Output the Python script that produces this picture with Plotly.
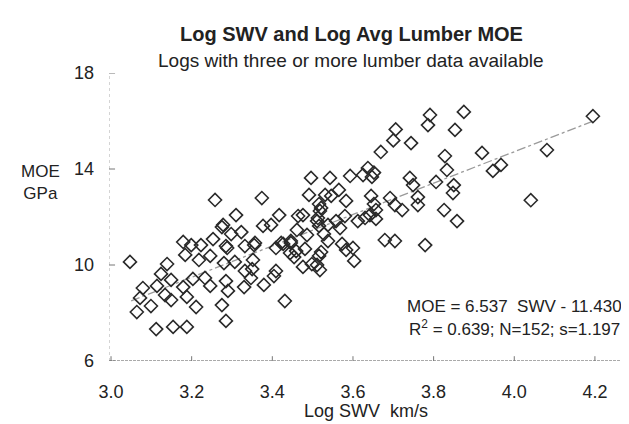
import plotly.graph_objects as go

# ---- data ----
swv = [3.258, 3.310, 3.278, 3.275, 3.323, 3.298, 3.253, 3.179, 3.199, 3.223,
       3.285, 3.332, 3.355, 3.184, 3.218, 3.246, 3.288, 3.352, 3.047, 3.139,
       3.280, 3.307, 3.332, 3.350, 3.347, 3.124, 3.149, 3.179, 3.203, 3.233,
       3.246, 3.285, 3.290, 3.330, 3.079, 3.114, 3.134, 3.149, 3.188, 3.072,
       3.099, 3.064, 3.211, 3.275, 3.112, 3.154, 3.188, 3.285, 3.409, 3.427,
       3.446, 3.444, 3.459, 3.481, 3.454, 3.521, 3.516, 3.476, 3.498, 3.511,
       3.518, 3.409, 3.404, 3.379, 3.431, 3.573, 3.583, 3.600, 3.603, 3.679,
       3.704, 3.706, 3.700, 3.669, 3.496, 3.543, 3.593, 3.625, 3.637, 3.647,
       3.652, 3.374, 3.491, 3.531, 3.546, 3.565, 3.583, 3.516, 3.521, 3.645,
       3.652, 3.692, 3.704, 3.417, 3.464, 3.476, 3.518, 3.513, 3.657, 3.642,
       3.657, 3.377, 3.397, 3.461, 3.511, 3.516, 3.538, 3.558, 3.580, 3.568,
       3.612, 3.630, 3.357, 3.422, 3.446, 3.486, 3.528, 3.538, 3.791, 3.875,
       3.786, 3.744, 3.853, 3.828, 3.920, 3.833, 3.947, 3.967, 4.081, 3.741,
       3.749, 3.806, 3.850, 3.848, 3.761, 3.761, 3.722, 3.826, 3.858, 4.041,
       3.779, 4.195]
moe = [12.71, 12.08, 11.67, 11.58, 11.37, 11.29, 11.08, 10.96, 10.83, 10.83,
       10.79, 10.79, 10.83, 10.42, 10.21, 10.38, 10.71, 10.21, 10.13, 10.04,
       10.08, 10.13, 9.75, 9.83, 9.46, 9.63, 9.38, 9.08, 9.42, 9.46,
       9.13, 9.33, 8.92, 9.08, 9.04, 9.13, 8.75, 8.54, 8.67, 8.63,
       8.29, 8.04, 8.25, 8.33, 7.33, 7.42, 7.42, 7.67, 10.71, 10.88,
       10.92, 10.50, 10.58, 10.67, 10.33, 10.54, 10.38, 9.92, 10.04, 10.00,
       9.79, 9.75, 9.54, 9.17, 8.50, 10.88, 10.63, 10.71, 10.17, 11.04,
       11.00, 15.65, 15.19, 14.71, 13.63, 13.63, 13.71, 13.75, 14.04, 13.67,
       13.85, 12.79, 12.92, 12.92, 12.88, 13.13, 12.67, 12.54, 12.38, 12.88,
       12.54, 12.79, 12.50, 12.08, 12.04, 12.08, 12.25, 11.96, 12.29, 12.08,
       11.92, 11.63, 11.67, 11.46, 11.83, 11.63, 11.67, 11.83, 12.04, 11.54,
       11.83, 11.96, 10.92, 10.92, 11.00, 11.25, 11.29, 11.00, 16.25, 16.38,
       15.83, 15.08, 15.63, 14.54, 14.67, 13.96, 13.92, 14.17, 14.79, 13.63,
       13.33, 13.46, 13.33, 13.00, 12.83, 12.50, 12.29, 12.29, 11.83, 12.70,
       10.83, 16.20]

slope = 6.537
intercept = -11.430
fit_swv = [3.05, 4.20]

x_ticks = [3.0, 3.2, 3.4, 3.6, 3.8, 4.0, 4.2]
x_tick_text = ["3.0", "3.2", "3.4", "3.6", "3.8", "4.0", "4.2"]
y_ticks = [6, 10, 14, 18]
y_tick_text = ["6", "10", "14", "18"]

title = "Log SWV and Log Avg Lumber MOE"
subtitle = "Logs with three or more lumber data available"
x_title = "Log SWV  km/s"
y_title = "MOE<br>GPa"
eq_line1 = "MOE = 6.537  SWV - 11.430"
eq_line2 = "R<sup>2</sup> = 0.639; N=152; s=1.197"

# ---- layout geometry ----
W, H = 629, 424
ml, mr, mt, mb = 101, 7, 65, 71
x_range = [2.995, 4.287]
y_range = [6, 18]

FONT = "Liberation Sans, Arial, sans-serif"
INK = "#222222"

fig = go.Figure()

fit_moe = [slope * v + intercept for v in fit_swv]
fig.add_trace(go.Scatter(
    x=fit_swv, y=fit_moe, mode="lines",
    line=dict(color="#9a9a9a", width=1.3, dash="dashdot"),
    hoverinfo="skip", showlegend=False))

fig.add_trace(go.Scatter(
    x=swv, y=moe, mode="markers",
    marker=dict(symbol="diamond-open", size=10, color="#2a2a2a",
                line=dict(width=1.6, color="#2a2a2a")),
    cliponaxis=False, showlegend=False))

shapes = []
# axis lines
shapes.append(dict(type="line", xref="x", yref="y", x0=x_range[0], x1=x_range[1],
                   y0=y_range[0], y1=y_range[0],
                   line=dict(color="#555555", width=1, dash="3px,1px")))
shapes.append(dict(type="line", xref="x", yref="y", x0=x_range[0], x1=x_range[0],
                   y0=y_range[0], y1=y_range[1],
                   line=dict(color="#aaaaaa", width=1, dash="dot")))
# crossing tick marks
for t in x_ticks:
    shapes.append(dict(type="line", xref="x", yref="y", x0=t, x1=t,
                       y0=y_range[0] - 0.2, y1=y_range[0] + 0.2,
                       line=dict(color="#777777", width=1)))
for t in y_ticks:
    shapes.append(dict(type="line", xref="x", yref="y",
                       x0=x_range[0] - 0.015, x1=x_range[0] + 0.015,
                       y0=t, y1=t, line=dict(color="#777777", width=1)))

pw = W - ml - mr
ph = H - mt - mb

def px_to_paper_x(px):
    return (px - ml) / pw

def px_to_paper_y(py):
    return (H - mb - py) / ph

annotations = [
    dict(text=f"<b>{title}</b>", x=px_to_paper_x(343), y=px_to_paper_y(26),
         xref="paper", yref="paper", showarrow=False, xanchor="center", yanchor="middle",
         font=dict(size=20, color=INK, family=FONT)),
    dict(text=subtitle, x=px_to_paper_x(342), y=px_to_paper_y(52),
         xref="paper", yref="paper", showarrow=False, xanchor="center", yanchor="middle",
         font=dict(size=19, color=INK, family=FONT)),
    dict(text=x_title, x=px_to_paper_x(358), y=px_to_paper_y(403),
         xref="paper", yref="paper", showarrow=False, xanchor="center", yanchor="middle",
         font=dict(size=18, color=INK, family=FONT)),
    dict(text=y_title, x=px_to_paper_x(32), y=px_to_paper_y(174),
         xref="paper", yref="paper", showarrow=False, xanchor="center", yanchor="middle",
         align="center", font=dict(size=17, color=INK, family=FONT)),
    dict(text=eq_line1, x=px_to_paper_x(616), y=px_to_paper_y(298),
         xref="paper", yref="paper", showarrow=False, xanchor="right", yanchor="middle",
         font=dict(size=17, color=INK, family=FONT)),
    dict(text=eq_line2, x=px_to_paper_x(614), y=px_to_paper_y(320),
         xref="paper", yref="paper", showarrow=False, xanchor="right", yanchor="middle",
         font=dict(size=17, color=INK, family=FONT)),
]

fig.update_layout(
    width=W, height=H,
    margin=dict(l=ml, r=mr, t=mt, b=mb, pad=0),
    paper_bgcolor="white", plot_bgcolor="white",
    font=dict(family=FONT, color=INK, size=18),
    shapes=shapes, annotations=annotations,
    xaxis=dict(range=x_range, tickmode="array", tickvals=x_ticks, ticktext=x_tick_text,
               showgrid=False, zeroline=False, showline=False, ticks="",
               ticklabelstandoff=18, tickfont=dict(size=18, color=INK, family=FONT)),
    yaxis=dict(range=y_range, tickmode="array", tickvals=y_ticks, ticktext=y_tick_text,
               showgrid=False, zeroline=False, showline=False, ticks="",
               ticklabelstandoff=14, tickfont=dict(size=18, color=INK, family=FONT)),
)

fig.write_html("out.html")
